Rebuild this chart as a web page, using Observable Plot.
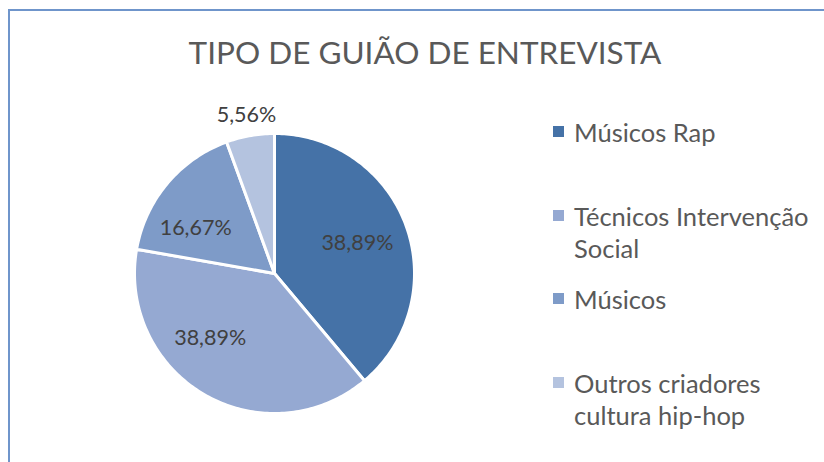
<!DOCTYPE html>
<html>
<head>
<meta charset="utf-8">
<script src="https://cdn.jsdelivr.net/npm/d3@7"></script>
<script src="https://cdn.jsdelivr.net/npm/@observablehq/plot@0.6"></script>
<style>
  html, body { margin: 0; padding: 0; background: #fff; }
  #wrap { position: relative; width: 824px; height: 462px; overflow: hidden; font-family: Lato, "Open Sans", sans-serif; color: #595959; }
  #frame { position: absolute; left: 8px; top: 9px; width: 900px; height: 600px; border: 2px solid #6f95cb; box-sizing: border-box; }
  #title { position: absolute; left: 0; width: 850px; top: 34px; text-align: center; font-size: 31.5px; line-height: 36px; }
  #chart { position: absolute; left: 0; top: 0; }
  #legend { position: absolute; left: 553px; top: 0; font-size: 25.5px; line-height: 32px; }
  .item { position: absolute; left: 0; white-space: nowrap; }
  .sw { position: absolute; left: 0; top: 10px; width: 11px; height: 11px; }
  .lab { position: absolute; left: 21px; top: 0; }
</style>
</head>
<body>
<div id="wrap">
  <div id="frame"></div>
  <div id="title"></div>
  <div id="chart"></div>
  <div id="legend"></div>
</div>
<script>
// ---- data ----
const titleText = "TIPO DE GUIÃO DE ENTREVISTA";
const categories = ["Músicos Rap", "Técnicos Intervenção Social", "Músicos", "Outros criadores cultura hip-hop"];
const legendLines = [["Músicos Rap"], ["Técnicos Intervenção", "Social"], ["Músicos"], ["Outros criadores", "cultura hip-hop"]];
const values = [38.89, 38.89, 16.67, 5.56];
const colors = ["#4572a7", "#95a9d2", "#7e9bc8", "#b4c3df"];

// ---- layout (not data) ----
const cx = 274, cy = 273, r = 140;
const labelRadius = [0.63, 0.65, 0.65, 1.15];
const labelNudge = [0, 15, -10, 0]; // degrees, to mimic best-fit label placement
const legendTops = [116, 200, 283, 367];

document.getElementById("title").textContent = titleText;

const total = d3.sum(values);
const fmt = v => d3.format(".2f")(v).replace(".", ",") + "%";

// slices: clockwise from 12 o'clock
const slices = [];
let acc = 0;
values.forEach((v, i) => {
  const a0 = acc / total * 2 * Math.PI;
  acc += v;
  const a1 = acc / total * 2 * Math.PI;
  slices.push({name: categories[i], value: v, a0, a1, i});
});

// polygon points per slice (geometry derived from the slice angles)
const pts = [];
for (const s of slices) {
  pts.push({name: s.name, x: 0, y: 0});
  const n = Math.max(4, Math.ceil((s.a1 - s.a0) / (Math.PI / 180)));
  for (let k = 0; k <= n; k++) {
    const a = s.a0 + (s.a1 - s.a0) * k / n;
    pts.push({name: s.name, x: Math.sin(a), y: Math.cos(a)});
  }
}

const labels = slices.map(s => {
  const a = (s.a0 + s.a1) / 2 + labelNudge[s.i] * Math.PI / 180;
  const rr = labelRadius[s.i];
  return {name: s.name, label: fmt(s.value), x: rr * Math.sin(a), y: rr * Math.cos(a)};
});

const plot = Plot.plot({
  width: 824,
  height: 462,
  margin: 0,
  x: {domain: [-1, 1], range: [cx - r, cx + r], axis: null},
  y: {domain: [-1, 1], range: [cy + r, cy - r], axis: null},
  color: {domain: categories, range: colors},
  style: {background: "transparent", fontFamily: "Lato, 'Open Sans', sans-serif"},
  marks: [
    Plot.line(pts, {x: "x", y: "y", z: "name", fill: "name", stroke: "white", strokeWidth: 3, curve: "linear-closed", strokeLinejoin: "round"}),
    Plot.text(labels, {x: "x", y: "y", text: "label", fill: "#404040", fontSize: 21.5})
  ]
});
document.getElementById("chart").appendChild(plot);

// legend
const leg = document.getElementById("legend");
categories.forEach((c, i) => {
  const item = document.createElement("div");
  item.className = "item";
  item.style.top = legendTops[i] + "px";
  const sw = document.createElement("div");
  sw.className = "sw";
  sw.style.background = colors[i];
  const lab = document.createElement("div");
  lab.className = "lab";
  lab.innerHTML = legendLines[i].map(t => t.replace(/&/g, "&amp;")).join("<br>");
  item.appendChild(sw);
  item.appendChild(lab);
  leg.appendChild(item);
});
</script>
</body>
</html>
